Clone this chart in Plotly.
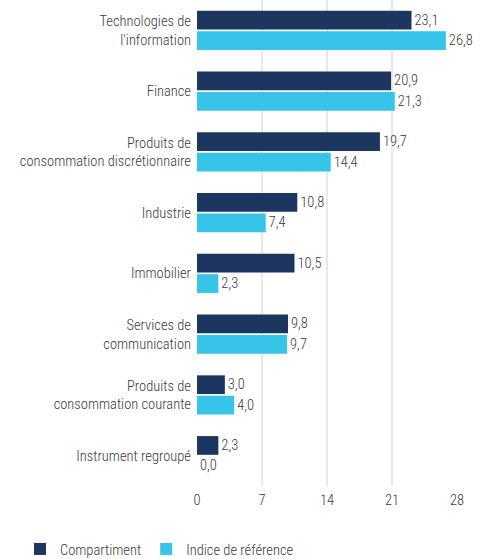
import plotly.graph_objects as go

categories = [
    "Technologies de<br>l'information",
    "Finance",
    "Produits de<br>consommation discrétionnaire",
    "Industrie",
    "Immobilier",
    "Services de<br>communication",
    "Produits de<br>consommation courante",
    "Instrument regroupé",
]
compartiment = [23.1, 20.9, 19.7, 10.8, 10.5, 9.8, 3.0, 2.3]
indice = [26.8, 21.3, 14.4, 7.4, 2.3, 9.7, 4.0, 0.0]
tick_vals = [0, 7, 14, 21, 28]

FONT = "Roboto Condensed, DejaVu Sans Condensed, sans-serif"
TXT = "#3a3a3a"
FS = 14.5
W = 300

fig = go.Figure()
fig.add_trace(go.Bar(
    name="Compartiment", y=categories, x=compartiment, orientation="h",
    marker=dict(color="#1c365f", line=dict(width=0)),
    texttemplate="%{x:.1f}", textposition="outside",
    textfont=dict(family=FONT, size=FS, color=TXT, weight=W), cliponaxis=False,
))
fig.add_trace(go.Bar(
    name="Indice de référence", y=categories, x=indice, orientation="h",
    marker=dict(color="#36c4e8", line=dict(width=0)),
    texttemplate="%{x:.1f}", textposition="outside",
    textfont=dict(family=FONT, size=FS, color=TXT, weight=W), cliponaxis=False,
))

fig.update_layout(
    width=481, height=559,
    margin=dict(l=197, r=24, t=0, b=73, autoexpand=False),
    barmode="group", bargap=0.33, bargroupgap=0.08,
    separators=", ",
    plot_bgcolor="white", paper_bgcolor="white",
    font=dict(family=FONT, size=FS, color=TXT, weight=W),
    showlegend=True,
    legend=dict(
        orientation="h", xref="paper", yref="paper",
        x=(20 - 197) / 260, y=-(549 - 486) / 486, xanchor="left", yanchor="middle",
        font=dict(family=FONT, size=FS, color=TXT, weight=W),
        traceorder="normal", bgcolor="rgba(0,0,0,0)",
    ),
    uniformtext=dict(mode=False),
)
fig.update_xaxes(
    range=[0, 28], tickvals=tick_vals, showgrid=True, gridcolor="#e8e8e8",
    gridwidth=2, zeroline=False, showline=False, ticks="",
    ticklabelstandoff=3,
    tickfont=dict(family=FONT, size=FS, color=TXT, weight=W), automargin=False,
)
fig.update_yaxes(
    autorange="reversed", showgrid=False, showline=False, ticks="",
    ticklabelstandoff=5, automargin=False,
    tickfont=dict(family=FONT, size=FS, color=TXT, weight=W),
)

fig.write_html("out.html", config={"displayModeBar": False},
               post_script="document.body.style.margin='0';")
